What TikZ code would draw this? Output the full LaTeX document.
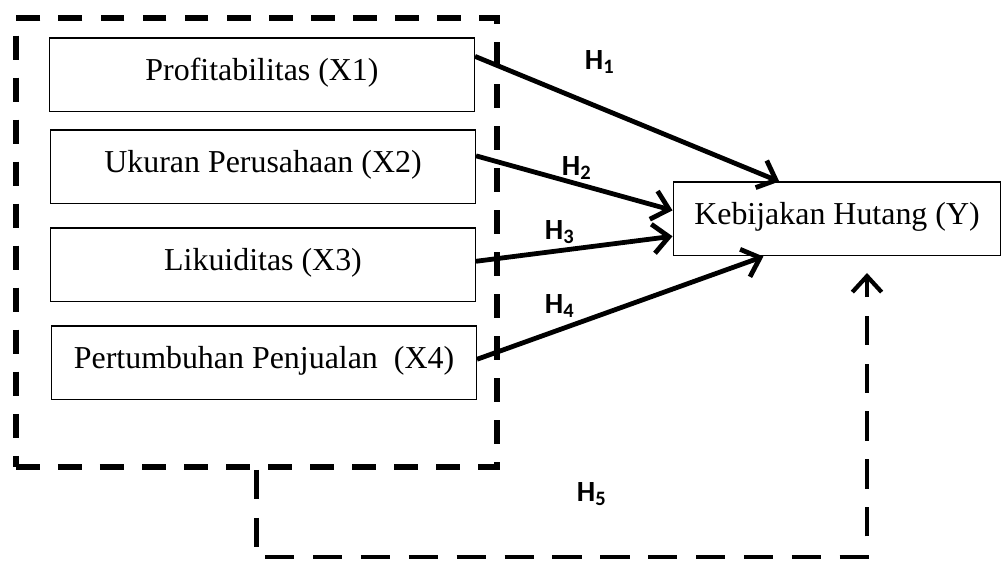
\documentclass[tikz,border=0pt]{standalone}
\usepackage{fontspec}
\setmainfont{Liberation Serif}
\newfontfamily\hfont{Carlito}
\usetikzlibrary{arrows.meta}
\begin{document}
\begin{tikzpicture}[x=0.376pt,y=-0.376pt,
  varbox/.style={draw,line width=0.4pt,minimum width=159.8pt,minimum height=27.8pt,
    inner sep=0pt,text height=8pt,text depth=4.2pt,font=\fontsize{12}{14}\selectfont},
  grpbox/.style={draw,line width=2.25pt,dash pattern=on 9pt off 6.8pt,
    minimum width=180.9pt,minimum height=168.8pt,inner sep=0pt},
  hyp/.style={-{Straight Barb[length=6pt,width=11pt]},line width=1.8pt},
  hyplink/.style={hyp,line width=1.6pt,dash pattern=on 11pt off 7pt},
  hlabel/.style={font=\hfont\bfseries\fontsize{11}{13}\selectfont}]
\useasboundingbox (0,0) rectangle (1003,563);
\node[grpbox] (grp) at (256.5,242.5) {};
\node[varbox] (x1) at (262,75) {Profitabilitas (X1)};
\node[varbox] (x2) at (263,167) {Ukuran Perusahaan (X2)};
\node[varbox] (x3) at (263,265) {Likuiditas (X3)};
\node[varbox] (x4) at (264,363) {Pertumbuhan Penjualan\ \ (X4)};
\node[varbox,minimum width=123.3pt] (y) at (837,219) {Kebijakan Hutang (Y)};
\draw [hyp](x1.5) -- (y.147);
\node[hlabel] (h1) at (600,62) {H\textsubscript{1}};
\draw [hyp](x2.3) -- (y.177.5);
\node[hlabel] (h2) at (577,168) {H\textsubscript{2}};
\draw [hyp](x3.1) -- (y.186);
\node[hlabel] (h3) at (560,232) {H\textsubscript{3}};
\draw [hyp](x4.1.3) -- (y.207);
\node[hlabel] (h4) at (560,306) {H\textsubscript{4}};
% simultaneous effect
\coordinate (h5turn) at (256.5,557);
\coordinate (h5tip) at (867,273);
\draw [hyplink](grp.south) -- (h5turn) -| (h5tip);
\node[hlabel] (h5) at (592,494) {H\textsubscript{5}};
\end{tikzpicture}
\end{document}
